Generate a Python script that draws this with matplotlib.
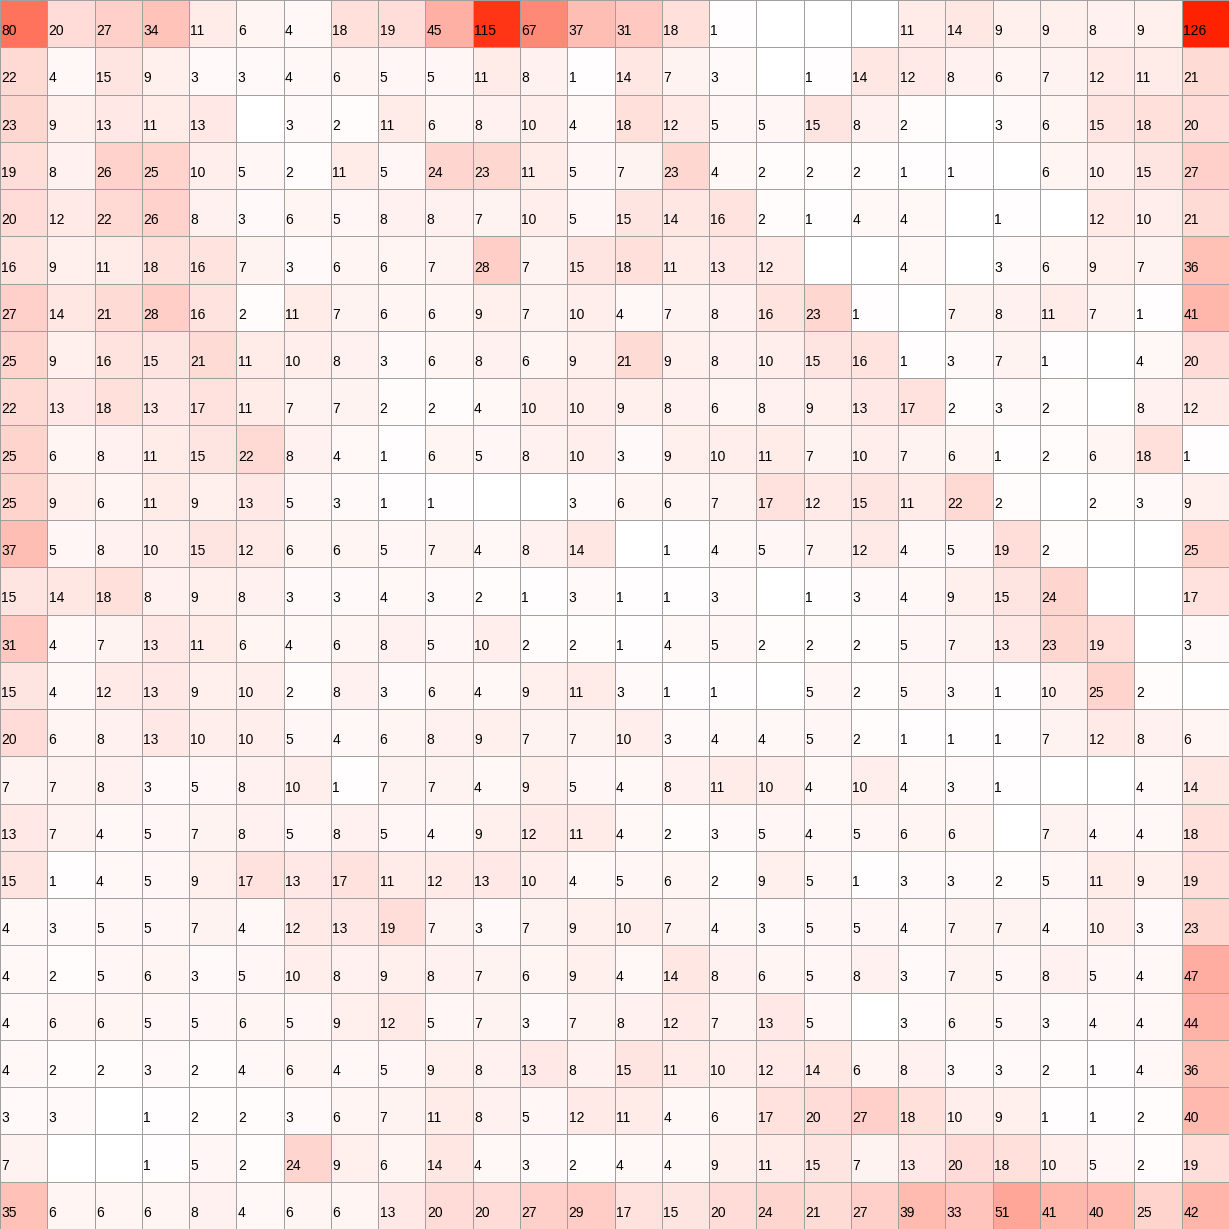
import numpy as np
import matplotlib.pyplot as plt
from matplotlib.colors import LinearSegmentedColormap

# one list per row, 0 = empty cell
row00 = [80, 20, 27, 34, 11, 6, 4, 18, 19, 45, 115, 67, 37, 31, 18, 1, 0, 0, 0, 11, 14, 9, 9, 8, 9, 126]
row01 = [22, 4, 15, 9, 3, 3, 4, 6, 5, 5, 11, 8, 1, 14, 7, 3, 0, 1, 14, 12, 8, 6, 7, 12, 11, 21]
row02 = [23, 9, 13, 11, 13, 0, 3, 2, 11, 6, 8, 10, 4, 18, 12, 5, 5, 15, 8, 2, 0, 3, 6, 15, 18, 20]
row03 = [19, 8, 26, 25, 10, 5, 2, 11, 5, 24, 23, 11, 5, 7, 23, 4, 2, 2, 2, 1, 1, 0, 6, 10, 15, 27]
row04 = [20, 12, 22, 26, 8, 3, 6, 5, 8, 8, 7, 10, 5, 15, 14, 16, 2, 1, 4, 4, 0, 1, 0, 12, 10, 21]
row05 = [16, 9, 11, 18, 16, 7, 3, 6, 6, 7, 28, 7, 15, 18, 11, 13, 12, 0, 0, 4, 0, 3, 6, 9, 7, 36]
row06 = [27, 14, 21, 28, 16, 2, 11, 7, 6, 6, 9, 7, 10, 4, 7, 8, 16, 23, 1, 0, 7, 8, 11, 7, 1, 41]
row07 = [25, 9, 16, 15, 21, 11, 10, 8, 3, 6, 8, 6, 9, 21, 9, 8, 10, 15, 16, 1, 3, 7, 1, 0, 4, 20]
row08 = [22, 13, 18, 13, 17, 11, 7, 7, 2, 2, 4, 10, 10, 9, 8, 6, 8, 9, 13, 17, 2, 3, 2, 0, 8, 12]
row09 = [25, 6, 8, 11, 15, 22, 8, 4, 1, 6, 5, 8, 10, 3, 9, 10, 11, 7, 10, 7, 6, 1, 2, 6, 18, 1]
row10 = [25, 9, 6, 11, 9, 13, 5, 3, 1, 1, 0, 0, 3, 6, 6, 7, 17, 12, 15, 11, 22, 2, 0, 2, 3, 9]
row11 = [37, 5, 8, 10, 15, 12, 6, 6, 5, 7, 4, 8, 14, 0, 1, 4, 5, 7, 12, 4, 5, 19, 2, 0, 0, 25]
row12 = [15, 14, 18, 8, 9, 8, 3, 3, 4, 3, 2, 1, 3, 1, 1, 3, 0, 1, 3, 4, 9, 15, 24, 0, 0, 17]
row13 = [31, 4, 7, 13, 11, 6, 4, 6, 8, 5, 10, 2, 2, 1, 4, 5, 2, 2, 2, 5, 7, 13, 23, 19, 0, 3]
row14 = [15, 4, 12, 13, 9, 10, 2, 8, 3, 6, 4, 9, 11, 3, 1, 1, 0, 5, 2, 5, 3, 1, 10, 25, 2, 0]
row15 = [20, 6, 8, 13, 10, 10, 5, 4, 6, 8, 9, 7, 7, 10, 3, 4, 4, 5, 2, 1, 1, 1, 7, 12, 8, 6]
row16 = [7, 7, 8, 3, 5, 8, 10, 1, 7, 7, 4, 9, 5, 4, 8, 11, 10, 4, 10, 4, 3, 1, 0, 0, 4, 14]
row17 = [13, 7, 4, 5, 7, 8, 5, 8, 5, 4, 9, 12, 11, 4, 2, 3, 5, 4, 5, 6, 6, 0, 7, 4, 4, 18]
row18 = [15, 1, 4, 5, 9, 17, 13, 17, 11, 12, 13, 10, 4, 5, 6, 2, 9, 5, 1, 3, 3, 2, 5, 11, 9, 19]
row19 = [4, 3, 5, 5, 7, 4, 12, 13, 19, 7, 3, 7, 9, 10, 7, 4, 3, 5, 5, 4, 7, 7, 4, 10, 3, 23]
row20 = [4, 2, 5, 6, 3, 5, 10, 8, 9, 8, 7, 6, 9, 4, 14, 8, 6, 5, 8, 3, 7, 5, 8, 5, 4, 47]
row21 = [4, 6, 6, 5, 5, 6, 5, 9, 12, 5, 7, 3, 7, 8, 12, 7, 13, 5, 0, 3, 6, 5, 3, 4, 4, 44]
row22 = [4, 2, 2, 3, 2, 4, 6, 4, 5, 9, 8, 13, 8, 15, 11, 10, 12, 14, 6, 8, 3, 3, 2, 1, 4, 36]
row23 = [3, 3, 0, 1, 2, 2, 3, 6, 7, 11, 8, 5, 12, 11, 4, 6, 17, 20, 27, 18, 10, 9, 1, 1, 2, 40]
row24 = [7, 0, 0, 1, 5, 2, 24, 9, 6, 14, 4, 3, 2, 4, 4, 9, 11, 15, 7, 13, 20, 18, 10, 5, 2, 19]
row25 = [35, 6, 6, 6, 8, 4, 6, 6, 13, 20, 20, 27, 29, 17, 15, 20, 24, 21, 27, 39, 33, 51, 41, 40, 25, 42]

valores = np.array([row00, row01, row02, row03, row04, row05, row06, row07, row08,
                    row09, row10, row11, row12, row13, row14, row15, row16, row17,
                    row18, row19, row20, row21, row22, row23, row24, row25])

cmap = LinearSegmentedColormap.from_list("branco_vermelho", ["#FFFFFF", "#FF2200"])

n_lin, n_col = valores.shape

fig = plt.figure(figsize=(12.29, 12.29), dpi=100)
ax = fig.add_axes([0, 0, 1, 1])

ax.pcolormesh(np.arange(n_col + 1), np.arange(n_lin + 1), valores,
              cmap=cmap, vmin=0, vmax=valores.max(),
              edgecolors="#A0A0A0", linewidth=0.7)

for i in range(n_lin):
    for j in range(n_col):
        v = valores[i, j]
        if v == 0:
            continue
        ax.text(j + 0.03, i + 0.66, str(v), ha="left", va="center",
                fontsize=10, family="Liberation Sans", color="black")

ax.set_xlim(0, n_col)
ax.set_ylim(n_lin, 0)
ax.axis("off")

plt.savefig("out.png", dpi=100)
plt.close()
